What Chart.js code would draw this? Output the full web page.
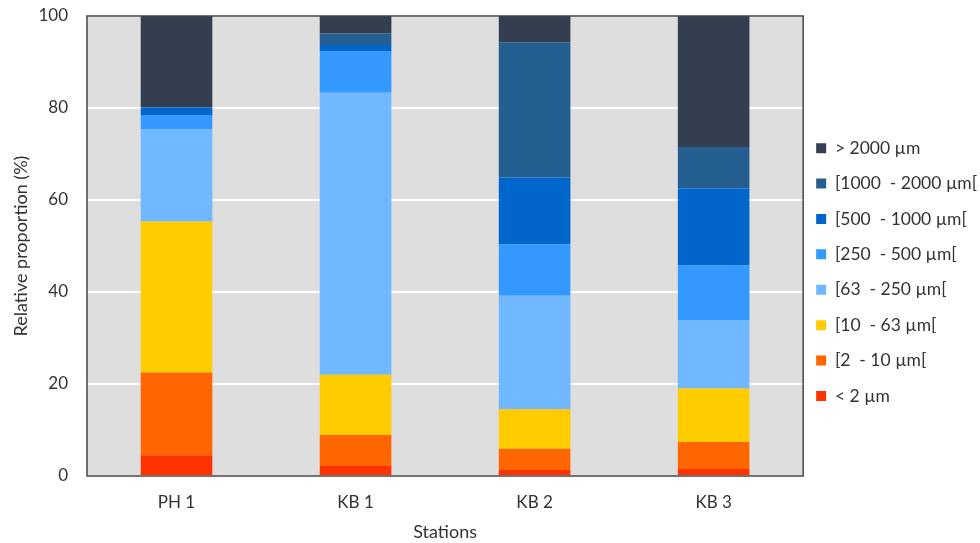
<!DOCTYPE html>
<html>
<head>
<meta charset="utf-8">
<script src="https://cdn.jsdelivr.net/npm/chart.js@4"></script>
<style>
  html, body { margin: 0; padding: 0; background: #fff; }
  #wrap { width: 980px; height: 543px; }
</style>
</head>
<body>
<div id="wrap"><canvas id="grainChart"></canvas></div>
<script>
// Stations and size classes
const stations = ['PH 1', 'KB 1', 'KB 2', 'KB 3'];
const yTicks = [0, 20, 40, 60, 80, 100];

// Relative proportion (%) per size class, one value per station
const lt2 = [4.5, 2.2, 1.3, 1.5];
const c2to10 = [18.0, 6.7, 4.6, 5.9];
const c10to63 = [32.8, 13.1, 8.6, 11.6];
const c63to250 = [20.1, 61.3, 24.7, 14.8];
const c250to500 = [3.1, 9.1, 11.2, 12.0];
const c500to1000 = [1.6, 1.3, 14.5, 16.7];
const c1000to2000 = [0.0, 2.5, 29.4, 9.0];
const gt2000 = [19.9, 3.8, 5.7, 28.5];

const fontFamily = 'Lato, "Open Sans", sans-serif';
const txt = '#333';

// Grey plot background + dark frame
const plotFrame = {
    id: 'plotFrame',
    beforeDraw(chart) {
        const { ctx, chartArea: a } = chart;
        ctx.save();
        ctx.fillStyle = '#dedede';
        ctx.fillRect(a.left, a.top, a.right - a.left, a.bottom - a.top);
        ctx.restore();
    },
    afterDatasetsDraw(chart) {
        const { ctx, chartArea: a } = chart;
        ctx.save();
        ctx.strokeStyle = '#454545';
        ctx.lineWidth = 1.5;
        ctx.strokeRect(a.left, a.top, a.right - a.left, a.bottom - a.top);
        ctx.restore();
    }
};

const ctx = document.getElementById('grainChart').getContext('2d');
const grainChart = new Chart(ctx, {
    type: 'bar',
    data: {
        labels: stations,
        datasets: [
            { label: '< 2 µm', data: lt2, backgroundColor: '#ff3300' },
            { label: '[2  - 10 µm[', data: c2to10, backgroundColor: '#ff6600' },
            { label: '[10  - 63 µm[', data: c10to63, backgroundColor: '#ffcc00' },
            { label: '[63  - 250 µm[', data: c63to250, backgroundColor: '#70b8ff' },
            { label: '[250  - 500 µm[', data: c250to500, backgroundColor: '#3399ff' },
            { label: '[500  - 1000 µm[', data: c500to1000, backgroundColor: '#0066cc' },
            { label: '[1000  - 2000 µm[', data: c1000to2000, backgroundColor: '#255e91' },
            { label: '> 2000 µm', data: gt2000, backgroundColor: '#333f50' },
        ]
    },
    options: {
        responsive: true,
        maintainAspectRatio: false,
        animation: false,
        layout: { padding: { top: 6, left: 2, right: -7, bottom: 0 } },
        datasets: {
            bar: { categoryPercentage: 1.0, barPercentage: 0.4, borderWidth: 0 }
        },
        plugins: {
            tooltip: { enabled: false },
            legend: {
                position: 'right',
                reverse: true,
                labels: {
                    boxWidth: 10,
                    boxHeight: 10,
                    padding: 13,
                    color: txt,
                    font: { family: fontFamily, size: 17.5, lineHeight: 22.4 / 17.5 },
                    // one-line arrays so the row height follows the font line height
                    generateLabels(chart) {
                        const items = Chart.defaults.plugins.legend.labels.generateLabels(chart);
                        items.forEach(it => { it.text = [it.text]; });
                        return items;
                    }
                }
            }
        },
        scales: {
            x: {
                stacked: true,
                grid: { display: false, drawTicks: false },
                border: { display: false },
                ticks: { color: txt, font: { family: fontFamily, size: 17 }, padding: 16 },
                title: { display: true, text: 'Stations', color: txt, font: { family: fontFamily, size: 18 }, padding: { top: 0, bottom: 0 } },
                afterFit(scale) { scale.height = 67; }
            },
            y: {
                stacked: true,
                min: 0,
                max: 100,
                afterBuildTicks(scale) {
                    scale.ticks = yTicks.map(v => ({ value: v }));
                },
                grid: { color: '#ffffff', lineWidth: 2, drawTicks: false },
                border: { display: false },
                ticks: { color: txt, font: { family: fontFamily, size: 17 }, padding: 19 },
                title: { display: true, text: 'Relative proportion (%)', color: txt, font: { family: fontFamily, size: 18 }, padding: { top: 8, bottom: 0 } },
                afterFit(scale) {
                    scale.width = 85;
                    scale.paddingTop = 16;
                    scale.paddingBottom = 0;
                }
            }
        }
    },
    plugins: [plotFrame]
});
</script>
</body>
</html>
